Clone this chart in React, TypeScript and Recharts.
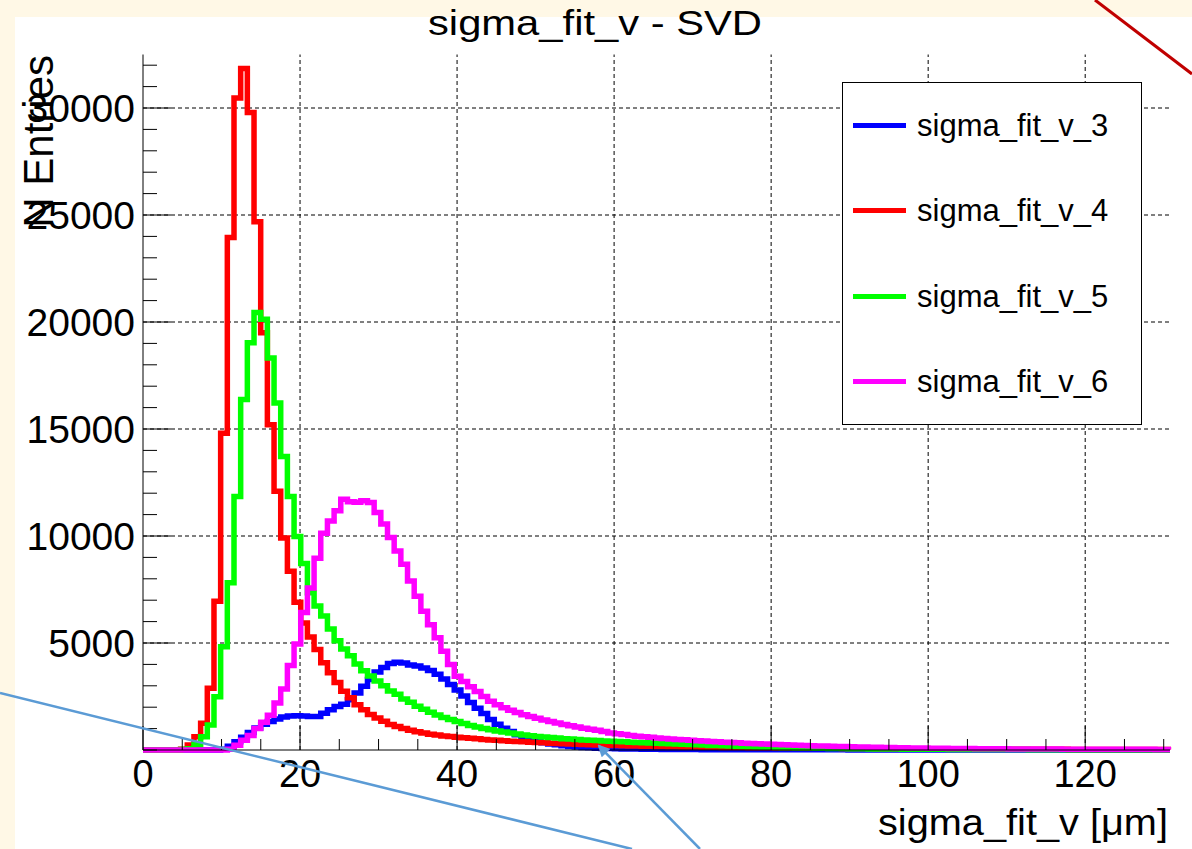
import React from 'react';
import { ComposedChart, Line, XAxis, YAxis, ReferenceLine, Legend } from 'recharts';

const FONT = '"Liberation Sans", Arial, Helvetica, sans-serif';

// histogram binning (x in um)
const BIN_START = -0.31;
const BIN_WIDTH = 0.85;
const X_MAX = 130.8;
const Y_MAX = 32500;

const X_LABELS = [0, 20, 40, 60, 80, 100, 120];
const X_MINOR_STEP = 5;
const Y_LABELS = [5000, 10000, 15000, 20000, 25000, 30000];
const Y_MINOR_STEP = 1000;

const SERIES_NAMES = ['sigma_fit_v_3', 'sigma_fit_v_4', 'sigma_fit_v_5', 'sigma_fit_v_6'];
const SERIES_COLORS = ['#0000ff', '#ff0000', '#00ff00', '#ff00ff'];

const SIGMA_FIT_V_3 = [
  0, 0, 0, 0, 0, 0, 0, 0, 0, 0,
  0, 0, 30, 180, 380, 600, 820, 1030, 1200, 1330,
  1450, 1540, 1590, 1600, 1590, 1560, 1560, 1720, 1880, 2030,
  2140, 2350, 2660, 2980, 3300, 3640, 3850, 4040, 4100, 4070,
  3970, 3920, 3830, 3710, 3540, 3320, 3060, 2800, 2520, 2220,
  1950, 1700, 1420, 1200, 1020, 860, 710, 580, 480, 400,
  340, 285, 240, 200, 165, 140, 118, 100, 86, 75,
  66, 58, 52, 46, 41, 37, 33, 30, 27, 25,
  23, 21, 19, 18, 17, 16, 15, 14, 13, 12,
  11, 11, 10, 10, 9, 9, 8, 8, 8, 7,
  7, 7, 6, 6, 6, 6, 5, 5, 5, 5,
  5, 4, 4, 4, 4, 4, 4, 3, 3, 3,
  3, 3, 3, 3, 3, 3, 2, 2, 2, 2,
  2, 2, 2, 2, 2, 2, 2, 2, 1, 1,
  1, 1, 1, 1, 1, 1, 1, 1, 1, 1,
  1, 1, 1, 1, 1,
];

const SIGMA_FIT_V_4 = [
  0, 0, 0, 0, 0, 0, 30, 230, 620, 1250,
  2880, 6950, 14800, 23950, 30470, 31850, 29790, 24690, 19500, 15200,
  12090, 9910, 8350, 6900, 5930, 5280, 4700, 4080, 3610, 3150,
  2740, 2440, 2120, 1880, 1660, 1500, 1340, 1190, 1100, 1000,
  920, 850, 790, 740, 700, 660, 630, 600, 575, 550,
  525, 495, 470, 450, 430, 410, 395, 380, 365, 350,
  335, 320, 305, 292, 280, 268, 256, 245, 235, 225,
  215, 206, 198, 190, 183, 176, 170, 164, 158, 153,
  148, 143, 139, 135, 131, 127, 124, 121, 118, 115,
  112, 109, 106, 103, 100, 97, 94, 91, 88, 86,
  84, 82, 80, 78, 76, 74, 72, 70, 68, 66,
  64, 62, 60, 58, 56, 55, 54, 52, 51, 50,
  48, 47, 46, 45, 44, 43, 42, 41, 40, 39,
  38, 37, 36, 35, 34, 33, 32, 31, 30, 29,
  28, 28, 27, 27, 26, 26, 25, 25, 24, 24,
  23, 23, 22, 22, 21,
];

const SIGMA_FIT_V_5 = [
  0, 0, 0, 0, 0, 0, 20, 60, 240, 620,
  1170, 2490, 4820, 7810, 11850, 16380, 19030, 20440, 20130, 18320,
  16220, 13720, 11850, 9980, 8720, 7350, 6730, 6260, 5650, 5100,
  4720, 4400, 4020, 3700, 3460, 3230, 3000, 2760, 2610, 2380,
  2230, 2050, 1900, 1760, 1640, 1520, 1420, 1330, 1240, 1150,
  1080, 1010, 950, 890, 840, 790, 745, 705, 670, 635,
  605, 580, 555, 530, 510, 490, 470, 455, 440, 425,
  410, 396, 382, 368, 354, 340, 326, 313, 300, 288,
  276, 264, 252, 240, 228, 216, 205, 194, 183, 172,
  162, 152, 143, 134, 126, 118, 111, 104, 98, 92,
  88, 83, 78, 73, 69, 65, 61, 58, 55, 52,
  49, 46, 44, 42, 40, 38, 36, 34, 32, 31,
  30, 28, 27, 26, 25, 24, 23, 22, 21, 20,
  19, 18, 18, 17, 16, 16, 15, 15, 14, 14,
  13, 13, 12, 12, 11, 11, 10, 10, 10, 9,
  9, 9, 8, 8, 8,
];

const SIGMA_FIT_V_6 = [
  0, 0, 0, 0, 0, 0, 0, 0, 0, 0,
  0, 0, 0, 40, 220, 450, 680, 1000, 1300, 1620,
  2200, 2850, 3950, 4950, 6420, 7570, 8960, 10130, 10700, 11180,
  11720, 11600, 11580, 11650, 11560, 11100, 10560, 9930, 9300, 8680,
  7900, 7180, 6480, 5850, 5240, 4620, 4000, 3450, 3200, 2950,
  2730, 2500, 2280, 2120, 1980, 1860, 1750, 1650, 1560, 1480,
  1400, 1330, 1260, 1190, 1130, 1070, 1020, 970, 920, 870,
  800, 760, 720, 680, 645, 615, 590, 565, 540, 515,
  495, 475, 455, 435, 415, 398, 380, 365, 350, 335,
  320, 306, 292, 279, 266, 254, 242, 231, 220, 210,
  200, 191, 182, 174, 166, 158, 151, 144, 137, 131,
  125, 119, 113, 108, 103, 98, 94, 90, 86, 82,
  78, 75, 72, 69, 66, 63, 60, 58, 56, 54,
  52, 50, 48, 46, 44, 43, 42, 41, 40, 39,
  38, 37, 36, 35, 34, 33, 33, 32, 31, 31,
  30, 30, 29, 29, 28,
];

const SERIES = [SIGMA_FIT_V_3, SIGMA_FIT_V_4, SIGMA_FIT_V_5, SIGMA_FIT_V_6];
const KEYS = ['v3', 'v4', 'v5', 'v6'];

// build step rows: one row per bin low edge, plus closing row at axis end
const rows: any[] = SIGMA_FIT_V_3.map((_, k) => {
  const r: any = { x: Math.max(0, +(BIN_START + k * BIN_WIDTH).toFixed(4)) };
  SERIES.forEach((s, i) => { r[KEYS[i]] = s[k]; });
  return r;
});
{
  const last: any = { x: X_MAX };
  SERIES.forEach((s, i) => { last[KEYS[i]] = s[s.length - 1]; });
  rows.push(last);
}

const X_TICKS = Array.from({ length: Math.floor(X_MAX / X_MINOR_STEP) + 1 }, (_, i) => i * X_MINOR_STEP);
const Y_TICKS = Array.from({ length: Math.floor(Y_MAX / Y_MINOR_STEP) + 1 }, (_, i) => i * Y_MINOR_STEP);

const isXMajor = (v: number) => X_LABELS.includes(v);
const isYMajor = (v: number) => Y_LABELS.includes(v);

const BottomTick = (props: any) => {
  const { x, y, payload } = props;
  const v = payload.value;
  const major = isXMajor(v);
  return (
    <g>
      <line x1={x} y1={y} x2={x} y2={y - (major ? 24 : 11)} stroke="#000" strokeWidth={1} />
      {major && (
        <text x={x} y={y + 37} textAnchor="middle" fontSize={38} fontFamily={FONT} fill="#000">{v}</text>
      )}
    </g>
  );
};

const TopTick = (props: any) => {
  const { x, y, payload } = props;
  const major = isXMajor(payload.value);
  return <line x1={x} y1={y} x2={x} y2={y + (major ? 24 : 11)} stroke="#000" strokeWidth={1} />;
};

const LeftTick = (props: any) => {
  const { x, y, payload } = props;
  const v = payload.value;
  const major = isYMajor(v);
  return (
    <g>
      <line x1={x} y1={y} x2={x + (major ? 28 : 14)} y2={y} stroke="#000" strokeWidth={1} />
      {major && (
        <text x={x - 8} y={y} dy="0.36em" textAnchor="end" fontSize={39} fontFamily={FONT} fill="#000">{v}</text>
      )}
    </g>
  );
};

const RightTick = (props: any) => {
  const { x, y, payload } = props;
  const major = isYMajor(payload.value);
  return <line x1={x} y1={y} x2={x - (major ? 28 : 14)} y2={y} stroke="#000" strokeWidth={1} />;
};

const renderLegend = (props: any) => {
  const payload = props.payload || [];
  const rowH = 341 / 4;
  return (
    <div style={{ width: 298, height: 341, border: '1px solid #000', background: '#fff', position: 'relative' }}>
      {payload.map((entry: any, i: number) => (
        <div key={i} style={{ position: 'absolute', left: 0, top: i * rowH, height: rowH, width: 298, display: 'flex', alignItems: 'center' }}>
          <div style={{ marginLeft: 10, width: 53, height: 5, background: entry.color }} />
          <span style={{ marginLeft: 11, fontSize: 31, fontFamily: FONT, color: '#000', lineHeight: 1 }}>{entry.value}</span>
        </div>
      ))}
    </div>
  );
};

export default function App() {
  return (
    <div style={{ position: 'absolute', left: 0, top: 0, width: 1192, height: 849, overflow: 'hidden', background: '#fff8e6' }}>
      <div style={{ position: 'absolute', left: 15, top: 17, width: 1177, height: 832, background: '#ffffff' }} />
      <div style={{ position: 'absolute', left: 0, top: 0 }}>
        <ComposedChart width={1192} height={849} data={rows} margin={{ top: 54.5, right: 22, bottom: 0, left: 0 }}>
          <XAxis xAxisId="b" dataKey="x" type="number" domain={[0, X_MAX]} ticks={X_TICKS} interval={0}
            height={99} tick={BottomTick} tickLine={false} tickSize={0} tickMargin={0}
            axisLine={{ stroke: '#000', strokeWidth: 1 }} />
          <XAxis xAxisId="t" orientation="top" dataKey="x" type="number" domain={[0, X_MAX]} ticks={X_TICKS} interval={0}
            height={0} tick={TopTick} tickLine={false} tickSize={0} tickMargin={0}
            axisLine={{ stroke: '#000', strokeWidth: 1 }} />
          <YAxis yAxisId="l" type="number" domain={[0, Y_MAX]} ticks={Y_TICKS} interval={0}
            width={143} tick={LeftTick} tickLine={false} tickSize={0} tickMargin={0}
            axisLine={{ stroke: '#000', strokeWidth: 1 }} />
          <YAxis yAxisId="r" orientation="right" type="number" domain={[0, Y_MAX]} ticks={Y_TICKS} interval={0}
            width={0} tick={RightTick} tickLine={false} tickSize={0} tickMargin={0}
            axisLine={{ stroke: '#000', strokeWidth: 1 }} />
          {X_LABELS.filter((v) => v > 0).map((v) => (
            <ReferenceLine key={'gx' + v} xAxisId="b" yAxisId="l" x={v} stroke="#000" strokeWidth={1} strokeDasharray="4 3" />
          ))}
          {Y_LABELS.map((v) => (
            <ReferenceLine key={'gy' + v} xAxisId="b" yAxisId="l" y={v} stroke="#000" strokeWidth={1} strokeDasharray="4 3" />
          ))}
          {KEYS.map((k, i) => (
            <Line key={k} xAxisId="b" yAxisId="l" type="stepAfter" dataKey={k} name={SERIES_NAMES[i]}
              stroke={SERIES_COLORS[i]} strokeWidth={5.5} dot={false} activeDot={false}
              isAnimationActive={false} />
          ))}
          <Legend content={renderLegend} layout="vertical" align="center" verticalAlign="middle"
            wrapperStyle={{ left: 842, top: 82, width: 300, height: 343 }} />
        </ComposedChart>
      </div>
      <svg width={1192} height={849} style={{ position: 'absolute', left: 0, top: 0, pointerEvents: 'none' }}>
        <defs>
          <marker id="arrow" markerWidth="12" markerHeight="12" refX="10" refY="6" orient="auto" markerUnits="userSpaceOnUse">
            <path d="M0,0 L12,6 L0,12 z" fill="#5b9bd5" />
          </marker>
        </defs>
        <text x={595} y={35} textAnchor="middle" fontSize={35} fontFamily={FONT} fill="#000"
          textLength={334} lengthAdjust="spacingAndGlyphs">sigma_fit_v - SVD</text>
        <text transform="translate(53,55) rotate(-90)" textAnchor="end" fontSize={42} fontFamily={FONT} fill="#000">N Entries</text>
        <text x={1168} y={835} textAnchor="end" fontSize={37} fontFamily={FONT} fill="#000"
          textLength={290} lengthAdjust="spacingAndGlyphs">sigma_fit_v [μm]</text>
        <line x1={0} y1={693} x2={632} y2={849} stroke="#5b9bd5" strokeWidth={2.5} />
        <line x1={700} y1={849} x2={599} y2={746} stroke="#5b9bd5" strokeWidth={2.5} markerEnd="url(#arrow)" />
        <line x1={1095} y1={0} x2={1192} y2={74} stroke="#c00000" strokeWidth={3} />
      </svg>
    </div>
  );
}
